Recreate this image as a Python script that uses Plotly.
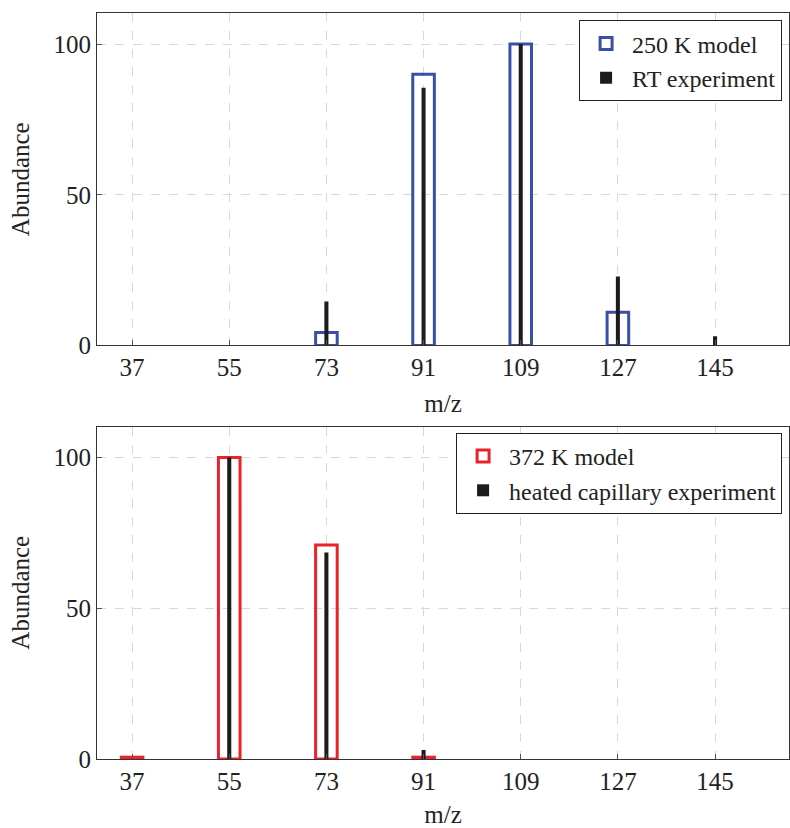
import plotly.graph_objects as go
from plotly.subplots import make_subplots

mz = [37, 55, 73, 91, 109, 127, 145]

model_250 = [None, None, 4.3, 90, 100, 11, None]
rt_exp = [None, None, 14.6, 85.5, 100, 22.9, 3.1]

model_372 = [0.6, 100, 71, 0.6, None, None, None]
heated_exp = [None, 100, 68.5, 3.0, None, None, None]

BLUE = "#3a4fa6"
RED = "#e8232b"
BLACK = "#1c1c1c"
FONT = "Liberation Serif, Times New Roman, serif"
FS = 25

fig = make_subplots(rows=2, cols=1, vertical_spacing=0.1086)

def add_pair(row, model, exp, color, name_m, name_e, legend):
    fig.add_trace(go.Bar(x=mz, y=model, width=4, name=name_m,
                         marker=dict(color="rgba(255,255,255,0)",
                                     line=dict(color=color, width=3)),
                         legend=legend), row=row, col=1)
    fig.add_trace(go.Bar(x=mz, y=exp, width=0.75, name=name_e,
                         marker=dict(color=BLACK, line=dict(width=0)),
                         legend=legend), row=row, col=1)

add_pair(1, model_250, rt_exp, BLUE, "250 K model", "RT experiment", "legend")
add_pair(2, model_372, heated_exp, RED, "372 K model", "heated capillary experiment", "legend2")

tf = dict(family=FONT, size=FS, color="#222222")
lf = dict(family=FONT, size=24, color="#222222")
axis_common = dict(showline=True, mirror=True, linecolor="#333333", linewidth=1,
                   ticks="inside", ticklen=5, tickcolor="#555555",
                   showgrid=True, gridcolor="#d8d8d8", griddash="dash", gridwidth=1,
                   zeroline=False, tickfont=tf)

for r in (1, 2):
    fig.update_xaxes(range=[30.5, 158.7], tickvals=mz, ticktext=[str(v) for v in mz],
                     title=dict(text="m/z", font=tf, standoff=14),
                     row=r, col=1, **axis_common)
    fig.update_yaxes(range=[0, 110.3], tickvals=[0, 50, 100],
                     title=dict(text="Abundance", font=tf, standoff=16),
                     row=r, col=1, **axis_common)

fig.update_layout(
    width=790, height=828,
    margin=dict(l=97, r=1, t=13, b=69),
    barmode="overlay",
    plot_bgcolor="white", paper_bgcolor="white",
    font=tf,
    showlegend=True,
    legend=dict(x=0.99, xanchor="right", y=0.99, yanchor="top",
                bordercolor="#222222", borderwidth=1, bgcolor="white",
                font=lf, tracegroupgap=0, itemwidth=42),
    legend2=dict(x=0.99, xanchor="right", y=0.437, yanchor="top",
                 bordercolor="#222222", borderwidth=1, bgcolor="white",
                 font=lf, tracegroupgap=0, itemwidth=42),
)

fig.write_html("out.html")
